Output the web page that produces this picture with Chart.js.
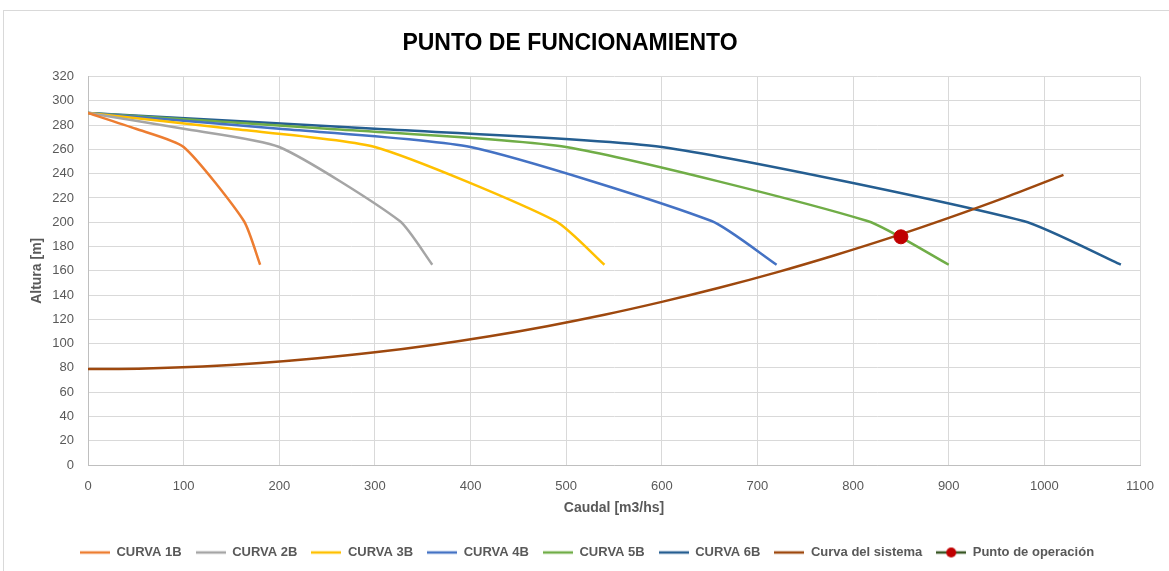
<!DOCTYPE html>
<html>
<head>
<meta charset="utf-8">
<script src="https://cdn.jsdelivr.net/npm/chart.js@4"></script>
<style>
    html, body { margin: 0; padding: 0; background: #ffffff; }
    #wrap { position: relative; width: 1169px; height: 571px; }
    #frame { position: absolute; left: 3px; top: 10px; width: 1170px; height: 570px; border: 1px solid #d9d9d9; box-sizing: border-box; }
    canvas { position: absolute; left: 0; top: 0; }
</style>
</head>
<body>
<div id="wrap">
    <div id="frame"></div>
    <canvas id="chart" width="1169" height="571"></canvas>
</div>
<script>
(function () {
    "use strict";

    // Pump curves (caudal m3/hs, altura m)
    const alturaCurva = [290, 277, 262, 201, 165];
    const caudal1B = [0, 50, 100, 163, 180];
    const caudal2B = [0, 100, 200, 326, 360];
    const caudal3B = [0, 150, 300, 489, 540];
    const caudal4B = [0, 200, 400, 652, 720];
    const caudal5B = [0, 250, 500, 815, 900];
    const caudal6B = [0, 300, 600, 978, 1080];

    // System curve
    const caudalSistema = [0, 60, 120, 180, 240, 300, 360, 420, 480, 540, 600, 660, 720, 780, 840, 900, 960, 1020];
    const alturaSistema = [79, 79.6, 81.2, 84, 87.9, 92.8, 98.9, 106.1, 114.4, 123.8, 134.4, 146, 158.7, 172.6, 187.5, 203.6, 220.7, 239];

    // Operating point
    const caudalOperacion = [850];
    const alturaOperacion = [188];

    const seriesNames = ["CURVA 1B", "CURVA 2B", "CURVA 3B", "CURVA 4B", "CURVA 5B", "CURVA 6B", "Curva del sistema", "Punto de operación"];
    const seriesColors = ["#ED7D31", "#A5A5A5", "#FFC000", "#4472C4", "#70AD47", "#255E91", "#9E480E", "#C00000"];

    const FONT = "'Liberation Sans', Arial, sans-serif";
    const TEXT = "#595959";

    const toPoints = (xs, ys) => xs.map((x, i) => ({ x: x, y: ys[i] }));

    const pumpCaudales = [caudal1B, caudal2B, caudal3B, caudal4B, caudal5B, caudal6B];

    const datasets = pumpCaudales.map((xs, i) => ({
        label: seriesNames[i],
        data: toPoints(xs, alturaCurva),
        borderColor: seriesColors[i],
        backgroundColor: seriesColors[i],
        borderWidth: 2.5,
        pointRadius: 0,
        tension: 0.2,
        order: 3,
    }));

    datasets.push({
        label: seriesNames[6],
        data: toPoints(caudalSistema, alturaSistema),
        borderColor: seriesColors[6],
        backgroundColor: seriesColors[6],
        borderWidth: 2.5,
        pointRadius: 0,
        tension: 0.3,
        order: 2,
    });

    datasets.push({
        label: seriesNames[7],
        data: toPoints(caudalOperacion, alturaOperacion),
        borderColor: "#375623",
        backgroundColor: seriesColors[7],
        pointBackgroundColor: seriesColors[7],
        pointBorderColor: seriesColors[7],
        pointRadius: 7,
        showLine: false,
        order: 1,
    });

    // Legend markers
    function legendMarker(color, dot) {
        const c = document.createElement("canvas");
        c.width = 30;
        c.height = 12;
        const g = c.getContext("2d");
        g.strokeStyle = dot ? "#375623" : color;
        g.lineWidth = 2.5;
        g.beginPath();
        g.moveTo(0, 6);
        g.lineTo(30, 6);
        g.stroke();
        if (dot) {
            g.fillStyle = color;
            g.beginPath();
            g.arc(15, 6, 5, 0, Math.PI * 2);
            g.fill();
        }
        return c;
    }

    // Nudge legend to the right like the original
    const legendShift = {
        id: "legendShift",
        afterLayout(chart) {
            if (chart.legend) {
                chart.legend.left += 17;
                chart.legend.right += 17;
            }
        },
    };

    const ctx = document.getElementById("chart").getContext("2d");

    new Chart(ctx, {
        type: "line",
        data: { datasets: datasets },
        plugins: [legendShift],
        options: {
            responsive: false,
            animation: false,
            layout: {
                padding: { top: 0, right: 29, bottom: 2, left: 0 },
            },
            plugins: {
                title: {
                    display: true,
                    text: "PUNTO DE FUNCIONAMIENTO",
                    color: "#000000",
                    font: { family: FONT, size: 23, weight: "bold" },
                    padding: { top: 30, bottom: 19 },
                },
                legend: {
                    position: "bottom",
                    labels: {
                        usePointStyle: true,
                        pointStyleWidth: 30,
                        color: TEXT,
                        font: { family: FONT, size: 13, weight: "bold" },
                        padding: 14,
                        generateLabels: () => seriesNames.map((name, i) => ({
                            text: name,
                            pointStyle: legendMarker(seriesColors[i], i === 7),
                            fontColor: TEXT,
                            datasetIndex: i,
                            lineWidth: 0,
                        })),
                    },
                },
                tooltip: { enabled: false },
            },
            scales: {
                x: {
                    type: "linear",
                    min: 0,
                    max: 1100,
                    ticks: {
                        stepSize: 100,
                        color: TEXT,
                        font: { family: FONT, size: 13 },
                        padding: 14,
                        maxRotation: 0,
                        callback: (v) => String(v),
                    },
                    grid: { color: "#D9D9D9", drawTicks: false },
                    border: { color: "#BFBFBF", width: 1 },
                    title: {
                        display: true,
                        text: "Caudal [m3/hs]",
                        color: TEXT,
                        font: { family: FONT, size: 14, weight: "bold" },
                        padding: { top: 6, bottom: 15 },
                    },
                    afterFit: (scale) => { scale.height = 67; },
                },
                y: {
                    min: 0,
                    max: 320,
                    ticks: {
                        stepSize: 20,
                        color: TEXT,
                        font: { family: FONT, size: 13 },
                        padding: 14,
                    },
                    grid: { color: "#D9D9D9", drawTicks: false },
                    border: { color: "#BFBFBF", width: 1 },
                    title: {
                        display: true,
                        text: "Altura [m]",
                        color: TEXT,
                        font: { family: FONT, size: 14, weight: "bold" },
                        padding: { top: 29, bottom: 4 },
                    },
                    afterFit: (scale) => { scale.width = 88; },
                },
            },
        },
    });
})();
</script>
</body>
</html>
